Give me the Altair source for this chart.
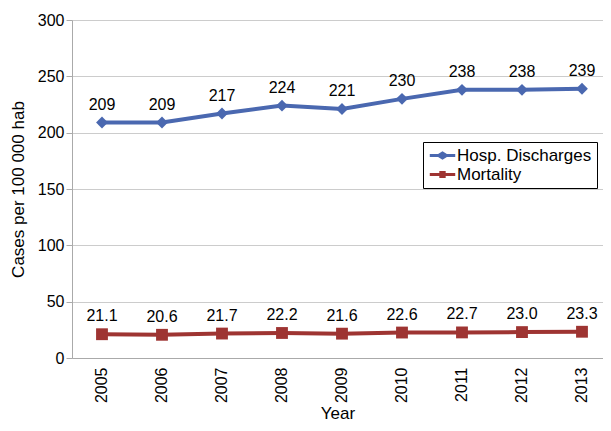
import altair as alt
import pandas as pd

years = ["2005", "2006", "2007", "2008", "2009", "2010", "2011", "2012", "2013"]
hosp = [209, 209, 217, 224, 221, 230, 238, 238, 239]
mort = [21.1, 20.6, 21.7, 22.2, 21.6, 22.6, 22.7, 23.0, 23.3]
series_names = ["Hosp. Discharges", "Mortality"]
colors = ["#4a68b0", "#9e3432"]

rows = []
for y, h in zip(years, hosp):
    rows.append({"Year": y, "value": h, "series": series_names[0], "label": f"{h:.0f}"})
for y, m in zip(years, mort):
    rows.append({"Year": y, "value": m, "series": series_names[1], "label": f"{m:.1f}"})
df = pd.DataFrame(rows)

FONT = "Liberation Sans"

x_enc = alt.X("Year:N", sort=years,
              scale=alt.Scale(type="point", padding=0.425, align=0.588),
              axis=alt.Axis(title="Year", labelAngle=-90, labelFontSize=16, titleFontSize=17,
                            labelFont=FONT, titleFont=FONT, labelColor="black", titleColor="black",
                            titleFontWeight="normal",
                            ticks=False, domainColor="#aaaaaa", labelPadding=9, titlePadding=3,
                            labelBaseline="middle", grid=False))
y_enc = alt.Y("value:Q", scale=alt.Scale(domain=[0, 300], nice=False),
              axis=alt.Axis(title="Cases per 100 000 hab", values=[0, 50, 100, 150, 200, 250, 300],
                            labelFontSize=16, titleFontSize=17, labelFont=FONT, titleFont=FONT,
                            titleFontWeight="normal",
                            labelColor="black", titleColor="black", tickColor="#aaaaaa",
                            tickSize=6, domainColor="#aaaaaa", gridColor="#cccccc",
                            labelPadding=2, titlePadding=10))
color_enc = alt.Color("series:N", scale=alt.Scale(domain=series_names, range=colors), legend=None)

base = alt.Chart(df)

lines = base.mark_line(strokeWidth=4).encode(x=x_enc, y=y_enc, color=color_enc, detail="series:N")

points = base.mark_point(filled=True, opacity=1, size=140).encode(
    x=x_enc, y=y_enc, color=color_enc,
    shape=alt.Shape("series:N", scale=alt.Scale(domain=series_names, range=["diamond", "square"]),
                    legend=None))

diamond_path = ("M-1.8,-0.2 L-0.62,-0.2 L0,-0.6 L0.62,-0.2 L1.8,-0.2 L1.8,0.2 "
                "L0.62,0.2 L0,0.6 L-0.62,0.2 L-1.8,0.2 Z")
square_path = ("M-1.8,-0.2 L-0.45,-0.2 L-0.45,-0.5 L0.45,-0.5 L0.45,-0.2 L1.8,-0.2 L1.8,0.2 "
               "L0.45,0.2 L0.45,0.5 L-0.45,0.5 L-0.45,0.2 L-1.8,0.2 Z")

leg = alt.Legend(title=None, orient="none", legendX=351, legendY=122,
                 labelFontSize=17, labelFont=FONT, labelColor="black",
                 symbolSize=200, symbolOpacity=1, symbolStrokeWidth=0,
                 strokeColor="black", fillColor="white", padding=5,
                 rowPadding=1, labelOffset=6, symbolOffset=6)

legend_layer = base.mark_point(filled=True, opacity=0).encode(
    x=x_enc, y=y_enc,
    fill=alt.Fill("series:N", scale=alt.Scale(domain=series_names, range=colors), legend=leg),
    shape=alt.Shape("series:N", scale=alt.Scale(domain=series_names, range=[diamond_path, square_path]),
                    legend=leg))

labels = base.mark_text(dy=-18, fontSize=16, font=FONT, color="black", baseline="middle").encode(
    x=x_enc, y=y_enc, text="label:N")

chart = alt.layer(lines, points, legend_layer, labels).resolve_scale(
    shape="independent", color="independent", fill="independent"
).properties(
    width=531, height=338,
    padding={"left": 64, "top": 12, "right": 0, "bottom": 65},
    autosize=alt.AutoSizeParams(type="none")
).configure_view(stroke=None).configure(background="white")

chart.save("out.html", embed_options={"renderer": "svg", "actions": False})
